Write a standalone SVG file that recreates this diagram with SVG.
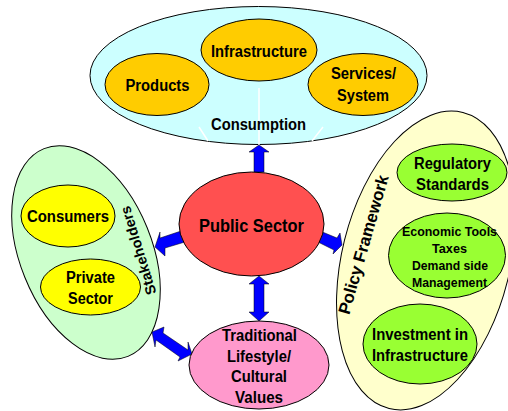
<svg xmlns="http://www.w3.org/2000/svg" width="508" height="411" viewBox="0 0 508 411">
<style>
.n{stroke:#000;stroke-width:1}
text{font-family:"Liberation Sans",Arial,sans-serif;font-weight:700;font-size:16px;fill:#000;text-anchor:middle}
.s{font-size:13px}
.a{fill:#00f;stroke:#000;stroke-width:.5}
.w{stroke:#fff;stroke-width:1.5;fill:none}
</style>
<rect width="508" height="411" fill="#fff"/>
<g id="consumption">
<ellipse class="n" cx="258.500" cy="75.500" rx="168.500" ry="69" fill="#ccffff"/>
<path class="w" d="M259 88V145M199 127L208 141M323 127L312 141"/>
<text x="258.500" y="130" textLength="95" lengthAdjust="spacingAndGlyphs">Consumption</text>
</g>
<g id="products"><ellipse class="n" cx="157" cy="84.500" rx="52" ry="31" fill="#ffcc00"/><text x="157.500" y="91" textLength="64" lengthAdjust="spacingAndGlyphs">Products</text></g>
<g id="infrastructure"><ellipse class="n" cx="259" cy="50" rx="58" ry="31" fill="#ffcc00"/><text x="259" y="57" textLength="96" lengthAdjust="spacingAndGlyphs">Infrastructure</text></g>
<g id="services"><ellipse class="n" cx="363" cy="84.500" rx="55" ry="31" fill="#ffcc00"/><text x="363.500" y="79" textLength="65" lengthAdjust="spacingAndGlyphs">Services/</text><text x="363" y="101" textLength="52" lengthAdjust="spacingAndGlyphs">System</text></g>
<g id="stakeholders">
<ellipse class="n" cx="86" cy="252.500" rx="66" ry="112" fill="#ccffcc" transform="rotate(-22 86 252.500)"/>
<text x="0" y="0" transform="translate(143 249) rotate(-107)" style="font-size:14.500px" textLength="92">Stakeholders</text>
</g>
<g id="consumers"><ellipse class="n" cx="68" cy="216" rx="47" ry="31" fill="#ffff00"/><text x="68" y="222" textLength="82" lengthAdjust="spacingAndGlyphs">Consumers</text></g>
<g id="private"><ellipse class="n" cx="90.500" cy="287" rx="50" ry="28" fill="#ffff00"/><text x="90.500" y="283" textLength="49" lengthAdjust="spacingAndGlyphs">Private</text><text x="90.500" y="304" textLength="45" lengthAdjust="spacingAndGlyphs">Sector</text></g>
<g id="policy">
<ellipse class="n" cx="426" cy="260.500" rx="84" ry="152.500" fill="#ffffcc" transform="rotate(14 426 260.500)"/>
<text x="0" y="0" transform="translate(369 246) rotate(-74)" style="font-size:17px" textLength="144">Policy Framework</text>
</g>
<g id="regulatory"><ellipse class="n" cx="452" cy="172.500" rx="55" ry="28.500" fill="#99ff33"/><text x="452.500" y="169" textLength="77" lengthAdjust="spacingAndGlyphs">Regulatory</text><text x="452.500" y="190" textLength="73" lengthAdjust="spacingAndGlyphs">Standards</text></g>
<g id="economic"><ellipse class="n" cx="447" cy="255.500" rx="58.500" ry="42.500" fill="#99ff33"/>
<text class="s" x="449.500" y="236" textLength="95" lengthAdjust="spacingAndGlyphs">Economic Tools</text><text class="s" x="449.500" y="253" textLength="35" lengthAdjust="spacingAndGlyphs">Taxes</text><text class="s" x="450" y="270" textLength="76" lengthAdjust="spacingAndGlyphs">Demand side</text><text class="s" x="449.500" y="287" textLength="75" lengthAdjust="spacingAndGlyphs">Management</text></g>
<g id="investment"><ellipse class="n" cx="420" cy="344" rx="57" ry="40" fill="#99ff33"/><text x="420" y="340" textLength="96" lengthAdjust="spacingAndGlyphs">Investment in</text><text x="420" y="361" textLength="96" lengthAdjust="spacingAndGlyphs">Infrastructure</text></g>
<g id="connectors">
<path class="a" d="M259 145L269 152H264V172H254V152H249Z"/>
<path class="a" d="M155 247L160 232L160 238L181 231L185 242L165 248L165 256Z"/>
<path class="a" d="M342 245L340 233L337 238L320 231L316 241L334 250L333 254Z"/>
<path class="a" d="M259 276L269 284H264V312H269L259 321L249 312H254V284H249Z"/>
<path class="a" d="M152 332L164 327L163 333L188 350L188 342L192 354L178 361L180 357L156 340L155 347Z"/>
</g>
<g id="public"><ellipse class="n" cx="251.500" cy="224" rx="72.500" ry="52" fill="#ff5050"/><text x="251.500" y="232" style="font-size:17.500px" textLength="105" lengthAdjust="spacingAndGlyphs">Public Sector</text></g>
<g id="traditional"><ellipse class="n" cx="259" cy="365" rx="70" ry="44" fill="#ff99cc"/><text x="259.500" y="341" textLength="75" lengthAdjust="spacingAndGlyphs">Traditional</text><text x="259" y="362" textLength="64" lengthAdjust="spacingAndGlyphs">Lifestyle/</text><text x="259" y="382" textLength="56" lengthAdjust="spacingAndGlyphs">Cultural</text><text x="259" y="403" textLength="48" lengthAdjust="spacingAndGlyphs">Values</text></g>
</svg>
